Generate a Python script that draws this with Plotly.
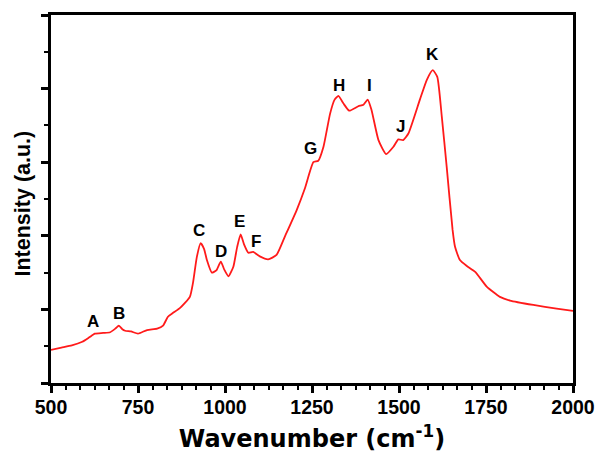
import plotly.graph_objects as go

wavenumber = [500, 530, 560, 590, 610, 626, 650, 670, 685, 695, 705, 713, 730, 750, 776, 805, 822, 836, 850, 871,
              899, 908, 919, 930, 940, 948, 962, 975, 988, 998, 1010, 1024, 1035, 1045, 1055, 1067, 1081, 1100,
              1124, 1148, 1172, 1206, 1230, 1254, 1268, 1283, 1302, 1315, 1326, 1340, 1357, 1383, 1398, 1410,
              1421, 1441, 1463, 1484, 1498, 1512, 1527, 1560, 1580, 1597, 1610, 1623, 1637, 1654, 1661, 1675,
              1695, 1719, 1752, 1790, 1819, 1886, 1953, 2000]
intensity = [0.45, 0.48, 0.51, 0.56, 0.62, 0.67, 0.68, 0.69, 0.74, 0.78, 0.73, 0.71, 0.70, 0.67, 0.72, 0.74, 0.78,
             0.90, 0.95, 1.02, 1.17, 1.36, 1.71, 1.90, 1.82, 1.67, 1.50, 1.53, 1.65, 1.54, 1.45, 1.58, 1.85, 2.02,
             1.88, 1.77, 1.78, 1.72, 1.68, 1.74, 1.99, 2.35, 2.65, 3.00, 3.02, 3.21, 3.66, 3.85, 3.90, 3.80, 3.70,
             3.76, 3.78, 3.85, 3.71, 3.30, 3.11, 3.21, 3.31, 3.30, 3.39, 3.85, 4.12, 4.25, 4.16, 3.62, 2.94, 2.08,
             1.85, 1.67, 1.59, 1.51, 1.31, 1.17, 1.12, 1.06, 1.01, 0.98]

peak_labels = ["A", "B", "C", "D", "E", "F", "G", "H", "I", "J", "K"]
peak_x = [620, 695, 925, 989, 1043, 1089, 1247, 1328, 1414, 1503, 1597]
peak_y = [0.83, 0.95, 2.07, 1.79, 2.19, 1.92, 3.19, 4.04, 4.04, 3.49, 4.46]

x_ticks = [500, 750, 1000, 1250, 1500, 1750, 2000]

WIDE = "DejaVu Sans, Verdana, sans-serif"
ARIAL = "Liberation Sans, Arial, sans-serif"

fig = go.Figure()
fig.add_trace(go.Scatter(x=wavenumber, y=intensity, mode="lines",
                         line=dict(color="#ff1a1a", width=1.8, shape="spline", smoothing=0.5),
                         showlegend=False, hoverinfo="skip"))

for t, xv, yv in zip(peak_labels, peak_x, peak_y):
    fig.add_annotation(x=xv, y=yv, text=t, showarrow=False,
                       font=dict(family=ARIAL, size=17, color="black", weight="bold"))

# y-axis title as rotated annotation (positioned like the reference)
fig.add_annotation(xref="paper", yref="paper", x=(22 - 51) / 522, y=(383 - 203.5) / 368,
                   text="Intensity (a.u.)", textangle=-90, showarrow=False,
                   xanchor="center", yanchor="middle",
                   font=dict(family=ARIAL, size=21.5, color="black", weight="bold"))

fig.update_layout(
    width=598, height=453,
    margin=dict(l=51, r=25, t=15, b=70),
    paper_bgcolor="white", plot_bgcolor="white",
    font=dict(family=ARIAL, color="black"),
)
fig.update_xaxes(
    automargin=False,
    range=[500, 2000], tickvals=x_ticks, ticktext=[str(v) for v in x_ticks],
    showgrid=False, zeroline=False,
    showline=True, linecolor="black", linewidth=3, mirror=True,
    ticks="outside", ticklen=7, tickwidth=2.5, tickcolor="black",
    minor=dict(dtick=250 / 6, tick0=500, ticks="outside", ticklen=4, tickwidth=2, tickcolor="black"),
    tickfont=dict(family=ARIAL, size=19.5, weight="bold"), ticklabelstandoff=-2,
    title=dict(text="Wavenumber (cm<sup>-1</sup>)", font=dict(family=WIDE, size=24, weight="bold"), standoff=20),
)
fig.update_yaxes(
    automargin=False,
    range=[0, 5], dtick=1, showticklabels=False,
    showgrid=False, zeroline=False,
    showline=True, linecolor="black", linewidth=3, mirror=True,
    ticks="outside", ticklen=7, tickwidth=2.5, tickcolor="black",
    minor=dict(dtick=0.5, ticks="outside", ticklen=4, tickwidth=2, tickcolor="black"),
)

fig.write_html("out.html")
